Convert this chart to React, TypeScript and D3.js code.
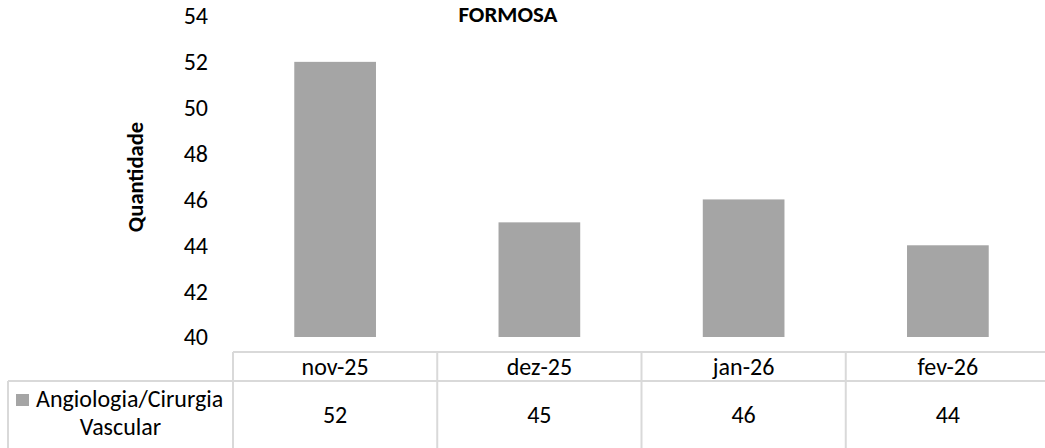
import React, { useEffect, useRef } from "react";
import * as d3 from "d3";

const title = "FORMOSA";
const yTitle = "Quantidade";
const seriesName = ["Angiologia/Cirurgia", "Vascular"];
const months = ["nov-25", "dez-25", "jan-26", "fev-26"];
const values = [52, 45, 46, 44];
const yTicks = [40, 42, 44, 46, 48, 50, 52, 54];

export default function App() {
  const svgRef = useRef<SVGSVGElement>(null);

  useEffect(() => {
    const width = 1045;
    const height = 448;
    const font = "Carlito, Calibri, 'Open Sans', sans-serif";
    const fs = 24;
    const gridColor = "#d9d9d9";
    const barColor = "#a5a5a5";

    const svg = d3.select(svgRef.current);
    svg.selectAll("*").remove();
    svg.attr("width", width).attr("height", height);

    const plotLeft = 233;
    const plotRight = 1050;
    const x = d3.scaleBand().domain(months).range([plotLeft, plotRight]).paddingInner(0).paddingOuter(0);
    const y = d3.scaleLinear().domain([40, 54]).range([337, 16]);

    // title
    svg.append("text")
      .attr("x", 508).attr("y", 22)
      .attr("text-anchor", "middle")
      .attr("font-family", font).attr("font-weight", "bold").attr("font-size", 23)
      .text(title);

    // y axis labels
    svg.append("g")
      .selectAll("text")
      .data(yTicks)
      .join("text")
      .attr("x", 208)
      .attr("y", (d) => y(d))
      .attr("dy", "0.35em")
      .attr("text-anchor", "end")
      .attr("font-family", font).attr("font-size", fs)
      .attr("fill", "#000")
      .text((d) => d);

    svg.append("text")
      .attr("transform", `translate(143, 177) rotate(-90)`)
      .attr("text-anchor", "middle")
      .attr("font-family", font).attr("font-weight", "bold").attr("font-size", 22.5)
      .text(yTitle);

    // bars
    const barW = x.bandwidth() * 0.4;
    svg.append("g")
      .selectAll("rect")
      .data(values)
      .join("rect")
      .attr("x", (d, i) => x(months[i])! + x.bandwidth() / 2 - barW / 2)
      .attr("y", (d) => y(d))
      .attr("width", barW)
      .attr("height", (d) => y(40) - y(d))
      .attr("fill", barColor);

    // data table
    const rowTop = 352;
    const rowMid = 381;
    const rowBottom = 450;
    const table = svg.append("g").attr("stroke", gridColor).attr("stroke-width", 2).attr("fill", "none");
    table.append("line").attr("x1", plotLeft).attr("x2", width).attr("y1", rowTop).attr("y2", rowTop);
    table.append("line").attr("x1", 8).attr("x2", width).attr("y1", rowMid).attr("y2", rowMid);
    table.append("line").attr("x1", 8).attr("x2", 8).attr("y1", rowMid).attr("y2", rowBottom);
    table.selectAll("line.v")
      .data(months)
      .join("line")
      .attr("class", "v")
      .attr("x1", (d) => x(d)!)
      .attr("x2", (d) => x(d)!)
      .attr("y1", rowTop)
      .attr("y2", rowBottom);

    svg.append("g")
      .selectAll("text")
      .data(months)
      .join("text")
      .attr("x", (d) => x(d)! + x.bandwidth() / 2)
      .attr("y", (rowTop + rowMid) / 2)
      .attr("dy", "0.35em")
      .attr("text-anchor", "middle")
      .attr("font-family", font).attr("font-size", fs)
      .text((d) => d);

    svg.append("g")
      .selectAll("text")
      .data(values)
      .join("text")
      .attr("x", (d, i) => x(months[i])! + x.bandwidth() / 2)
      .attr("y", 415)
      .attr("dy", "0.35em")
      .attr("text-anchor", "middle")
      .attr("font-family", font).attr("font-size", fs)
      .text((d) => d);

    // legend cell
    const legendX = (8 + plotLeft) / 2;
    svg.append("rect")
      .attr("x", 16).attr("y", 394).attr("width", 13).attr("height", 12)
      .attr("fill", barColor);
    svg.append("text")
      .attr("x", 36).attr("y", 399)
      .attr("dy", "0.35em")
      .attr("font-family", font).attr("font-size", fs)
      .text(seriesName[0]);
    svg.append("text")
      .attr("x", legendX).attr("y", 427)
      .attr("dy", "0.35em")
      .attr("text-anchor", "middle")
      .attr("font-family", font).attr("font-size", fs)
      .text(seriesName[1]);
  }, []);

  return (
    <div style={{ position: "absolute", left: 0, top: 0 }}>
      <svg ref={svgRef} style={{ display: "block" }}></svg>
    </div>
  );
}
